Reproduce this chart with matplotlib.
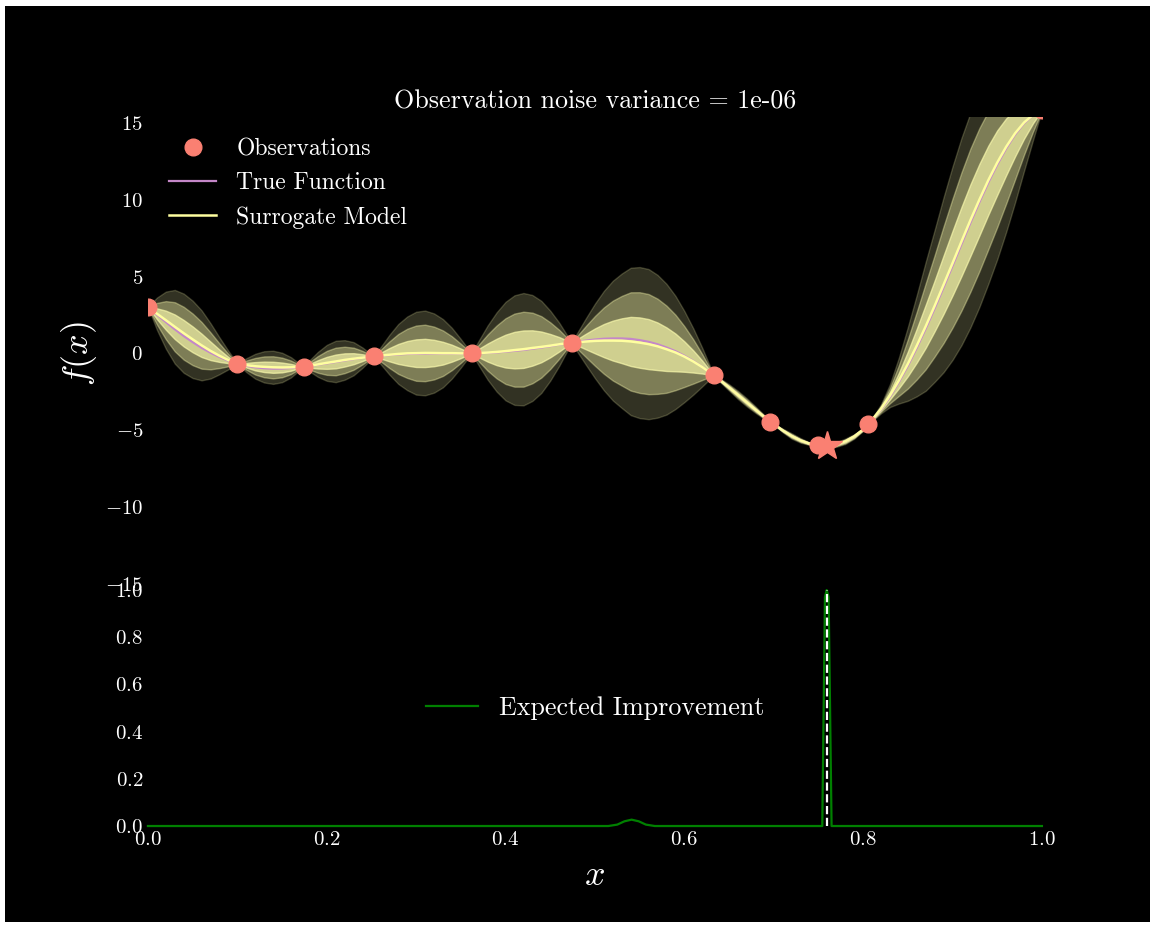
import matplotlib as mpl
mpl.use('Agg')

import numpy as np
import matplotlib.pyplot as plt
from matplotlib.patches import Rectangle

plt.style.use('dark_background')
plt.rcParams['font.family'] = 'cmr10'
plt.rcParams['mathtext.fontset'] = 'cm'
plt.rcParams['axes.formatter.use_mathtext'] = True

# evaluation grid (observation locations included so the bands pinch there)
grid_x = [0.00, 0.01, 0.02, 0.03, 0.04, 0.05, 0.06, 0.07, 0.08, 0.09,
          0.10, 0.11, 0.12, 0.13, 0.14, 0.15, 0.16, 0.174,
          0.18, 0.19, 0.20, 0.21, 0.22, 0.23, 0.24, 0.253,
          0.26, 0.27, 0.28, 0.29, 0.30, 0.31, 0.32, 0.33, 0.34, 0.35, 0.362,
          0.37, 0.38, 0.39, 0.40, 0.41, 0.42, 0.43, 0.44, 0.45, 0.46, 0.474,
          0.48, 0.49, 0.50, 0.51, 0.52, 0.53, 0.54, 0.55, 0.56, 0.57, 0.58,
          0.59, 0.60, 0.61, 0.62, 0.633,
          0.64, 0.65, 0.66, 0.67, 0.68, 0.69, 0.696,
          0.71, 0.72, 0.73, 0.74, 0.749,
          0.76, 0.77, 0.78, 0.79, 0.80, 0.806,
          0.82, 0.83, 0.84, 0.85, 0.86, 0.87, 0.88, 0.89, 0.90, 0.91, 0.92,
          0.93, 0.94, 0.95, 0.96, 0.97, 0.98, 0.99, 1.00]

true_y = [3.03, 2.53, 2.05, 1.58, 1.14, 0.74, 0.37, 0.05, -0.23, -0.47,
          -0.66, -0.80, -0.90, -0.96, -0.99, -0.98, -0.94, -0.86,
          -0.82, -0.73, -0.64, -0.55, -0.45, -0.36, -0.28, -0.19,
          -0.15, -0.10, -0.06, -0.03, -0.02, -0.01, 0.00, 0.00, 0.00, 0.00, 0.01,
          0.02, 0.04, 0.07, 0.12, 0.17, 0.23, 0.31, 0.39, 0.48, 0.58, 0.71,
          0.76, 0.84, 0.91, 0.96, 0.98, 0.98, 0.95, 0.87, 0.76, 0.60, 0.39,
          0.15, -0.15, -0.49, -0.88, -1.42,
          -1.74, -2.21, -2.70, -3.19, -3.68, -4.16, -4.43,
          -5.01, -5.37, -5.66, -5.87, -5.99,
          -6.02, -5.93, -5.72, -5.40, -4.95, -4.60,
          -3.65, -2.82, -1.86, -0.80, 0.37, 1.62, 2.94, 4.31, 5.71, 7.12, 8.51,
          9.85, 11.13, 12.30, 13.35, 14.26, 14.99, 15.52, 15.83]

surrogate_mean = [3.03, 2.59, 2.17, 1.74, 1.32, 0.92, 0.53, 0.17, -0.15, -0.43,
                  -0.66, -0.76, -0.83, -0.87, -0.90, -0.91, -0.90, -0.86,
                  -0.81, -0.71, -0.61, -0.52, -0.42, -0.34, -0.27, -0.19,
                  -0.14, -0.08, -0.03, 0.01, 0.02, 0.035, 0.03, 0.02, 0.02, 0.01, 0.01,
                  0.03, 0.06, 0.10, 0.155, 0.22, 0.28, 0.36, 0.43, 0.51, 0.60, 0.71,
                  0.73, 0.78, 0.82, 0.84, 0.84, 0.83, 0.785, 0.71, 0.61, 0.47, 0.28,
                  0.07, -0.20, -0.52, -0.885, -1.42,
                  -1.74, -2.21, -2.70, -3.19, -3.68, -4.16, -4.43,
                  -5.01, -5.37, -5.66, -5.87, -5.99,
                  -6.02, -5.93, -5.72, -5.40, -4.95, -4.60,
                  -3.60, -2.74, -1.76, -0.68, 0.51, 1.77, 3.10, 4.48, 5.88, 7.29, 8.68,
                  10.01, 11.28, 12.43, 13.46, 14.34, 15.04, 15.54, 15.83]

surrogate_std = [0.00, 0.35, 0.62, 0.80, 0.86, 0.84, 0.76, 0.60, 0.40, 0.20,
                 0.00, 0.15, 0.27, 0.34, 0.36, 0.32, 0.22, 0.00,
                 0.11, 0.27, 0.39, 0.45, 0.43, 0.36, 0.22, 0.00,
                 0.18, 0.43, 0.65, 0.80, 0.90, 0.92, 0.86, 0.74, 0.55, 0.31, 0.00,
                 0.27, 0.59, 0.86, 1.07, 1.19, 1.22, 1.15, 1.00, 0.76, 0.47, 0.00,
                 0.20, 0.51, 0.81, 1.08, 1.30, 1.46, 1.60, 1.64, 1.63, 1.55, 1.42,
                 1.23, 0.99, 0.72, 0.42, 0.00,
                 0.04, 0.07, 0.09, 0.09, 0.07, 0.04, 0.00,
                 0.04, 0.06, 0.05, 0.03, 0.00,
                 0.03, 0.05, 0.06, 0.05, 0.03, 0.00,
                 0.10, 0.25, 0.50, 0.80, 1.10, 1.40, 1.65, 1.90, 2.10, 2.25, 2.33,
                 2.33, 2.25, 2.10, 1.85, 1.50, 1.05, 0.55, 0.00]

obs_x = [0.0, 0.10, 0.174, 0.253, 0.362, 0.474, 0.633, 0.696, 0.749, 0.806, 1.0]
obs_y = [3.03, -0.66, -0.86, -0.19, 0.01, 0.71, -1.42, -4.43, -5.99, -4.60, 15.83]

next_x = 0.7592
next_y = -6.02

# expected improvement, scaled to its maximum
ei_x = [0.0, 0.515, 0.525, 0.533, 0.541, 0.549, 0.557, 0.567,
        0.7543, 0.7573, 0.7592, 0.7614, 0.7647, 1.0]
ei_y = [0.0, 0.0, 0.006, 0.02, 0.027, 0.02, 0.006, 0.0,
        0.0, 0.97, 1.0, 0.97, 0.0, 0.0]

fig = plt.figure(figsize=(11.55, 9.25), dpi=100, facecolor='white')
fig.add_artist(Rectangle((5 / 1155, 3 / 925), 1145 / 1155, 916 / 925,
                         transform=fig.transFigure, facecolor='black',
                         edgecolor='none', zorder=-5))

ax1 = fig.add_axes([0.1281, 0.3622, 0.7740, 0.5113], facecolor='black')
ax2 = fig.add_axes([0.1281, 0.1070, 0.7740, 0.2551], facecolor='black')

x = np.array(grid_x)
mu = np.array(surrogate_mean)
sd = np.array(surrogate_std)

# 3, 2 and 1 sigma bands stacked on top of each other
band_color = '#ffffb0'
for k, a in zip([3, 2, 1], [0.2, 0.37, 0.64]):
    ax1.fill_between(x, mu - k * sd, mu + k * sd, color=band_color, alpha=a)

true_h, = ax1.plot(x, true_y, color='#c487c8', lw=1.6)
surr_h, = ax1.plot(x, mu, color='#ffffa0', lw=1.8)
obs_h, = ax1.plot(obs_x, obs_y, 'o', color='#fa8072', ms=12)
ax1.plot(next_x, next_y, '*', color='#fa8072', ms=22)

ax1.legend([obs_h, true_h, surr_h],
           ['Observations', 'True Function', 'Surrogate Model'],
           loc='upper left', frameon=False, fontsize=17, handletextpad=0.85)

ax1.set_xlim(0, 1)
ax1.set_ylim(-15.4, 15.4)
ax1.set_yticks([-15, -10, -5, 0, 5, 10, 15])
ax1.tick_params(labelbottom=False, bottom=False, length=0, labelsize=15)
ax1.set_title('Observation noise variance = 1e-06', fontsize=18.7, color='white')
ax1.set_ylabel('$f(x)$', fontsize=26)

ax2.plot(ei_x, ei_y, color='green', lw=1.6, clip_on=False,
         label='Expected Improvement')
ax2.axvline(next_x, color='white', ls='--', lw=1.6)
ax2.set_xlim(0, 1)
ax2.set_ylim(0, 1)
ax2.set_xticks([0, 0.2, 0.4, 0.6, 0.8, 1.0])
ax2.set_yticks([0, 0.2, 0.4, 0.6, 0.8, 1.0])
ax2.tick_params(length=0, labelsize=15)
ax2.legend(loc='center', frameon=False, fontsize=18.7)
ax2.set_xlabel('$x$', fontsize=26, labelpad=8)

for ax in (ax1, ax2):
    for s in ax.spines.values():
        s.set_visible(False)

plt.savefig('out.png', dpi=100, facecolor='white')
